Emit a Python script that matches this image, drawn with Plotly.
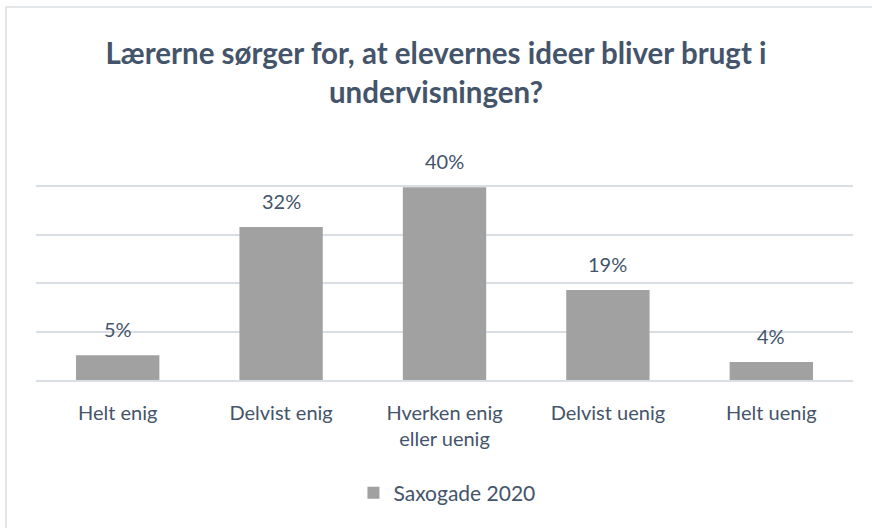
import plotly.graph_objects as go

# Survey answers (share of pupils)
CATEGORIES = ["Helt enig", "Delvist enig", "Hverken enig<br>eller uenig", "Delvist uenig", "Helt uenig"]
SHARES = [0.051, 0.316, 0.398, 0.186, 0.037]
SERIES_NAME = "Saxogade 2020"
TITLE = "Lærerne sørger for, at elevernes ideer bliver brugt i<br>undervisningen?"

_TEXT_COLOR = "#44546A"
_GRID_COLOR = "#D9DEE4"
_BAR_COLOR = "#A1A1A1"
_FONT = "Lato, Calibri, 'Open Sans', sans-serif"

fig = go.Figure()
fig.add_trace(
    go.Bar(
        x=CATEGORIES,
        y=SHARES,
        name=SERIES_NAME,
        width=0.51,
        marker=dict(color=_BAR_COLOR, line=dict(width=0)),
        showlegend=True,
    )
)

# data labels sit a fixed distance above each bar top
for tCat, tVal in zip(CATEGORIES, SHARES):
    fig.add_annotation(
        x=tCat,
        y=tVal,
        text=format(tVal, ".0%"),
        showarrow=False,
        yanchor="bottom",
        yshift=12,
        font=dict(size=20, color=_TEXT_COLOR, family=_FONT),
    )

# thin outer chart border (right/bottom fall outside the window like the original)
fig.add_shape(
    type="rect",
    xref="paper",
    yref="paper",
    x0=-0.0367,
    x1=1.05,
    y0=-0.7,
    y1=1.541,
    line=dict(color="#DCDFE3", width=1.5),
    fillcolor="rgba(0,0,0,0)",
    layer="below",
)

fig.update_layout(
    width=872,
    height=528,
    paper_bgcolor="white",
    plot_bgcolor="white",
    font=dict(family=_FONT, color=_TEXT_COLOR),
    margin=dict(l=36, r=19, t=138, b=148),
    title=dict(
        text=TITLE,
        x=0.5,
        xanchor="center",
        y=0.878,
        yanchor="middle",
        font=dict(size=29.5, color=_TEXT_COLOR, family=_FONT, weight="bold"),
    ),
    legend=dict(
        orientation="h",
        x=0.503,
        xanchor="center",
        y=-0.467,
        yanchor="middle",
        font=dict(size=21, color=_TEXT_COLOR, family=_FONT),
        itemwidth=30,
    ),
)
fig.update_xaxes(
    showgrid=False,
    showline=True,
    linecolor=_GRID_COLOR,
    linewidth=1.5,
    ticks="",
    ticklabelstandoff=14,
    tickfont=dict(size=20, color=_TEXT_COLOR, family=_FONT),
)
fig.update_yaxes(
    range=[0, 0.5],
    dtick=0.1,
    showgrid=True,
    gridcolor=_GRID_COLOR,
    gridwidth=1.5,
    showticklabels=False,
    zeroline=False,
)

# drop the default 8px page margin so the figure sits flush with the window
fig.write_html(
    "out.html",
    config={"displayModeBar": False},
    post_script="document.body.style.margin='0';",
)
